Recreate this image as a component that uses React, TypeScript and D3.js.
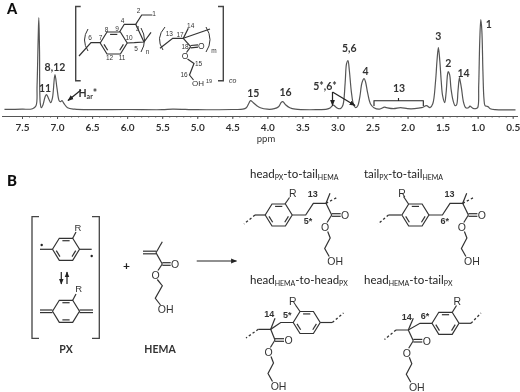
import React, { useEffect, useRef } from "react";
import * as d3 from "d3";

// 1H NMR spectrum: shift (ppm) and height above baseline
const shifts = [7.75, 7.5, 7.35, 7.3, 7.285, 7.27, 7.26, 7.25, 7.24, 7.225, 7.2, 7.17, 7.15, 7.12, 7.09, 7.065, 7.03, 7.0, 6.97, 6.95, 6.93, 6.9, 6.85, 6.75, 6.5, 6.0, 5.5, 5.35, 5.0, 4.5, 4.35, 4.3, 4.26, 4.24, 4.2, 4.15, 4.1, 4.0, 3.9, 3.84, 3.8, 3.78, 3.74, 3.68, 3.6, 3.3, 3.15, 3.1, 3.06, 3.02, 2.98, 2.95, 2.92, 2.89, 2.87, 2.85, 2.83, 2.8, 2.77, 2.74, 2.71, 2.68, 2.65, 2.62, 2.6, 2.57, 2.53, 2.48, 2.4, 2.33, 2.3, 2.2, 2.1, 2.0, 1.9, 1.8, 1.73, 1.68, 1.64, 1.6, 1.58, 1.56, 1.54, 1.52, 1.5, 1.47, 1.45, 1.43, 1.42, 1.4, 1.38, 1.35, 1.32, 1.3, 1.28, 1.26, 1.25, 1.23, 1.2, 1.17, 1.13, 1.11, 1.07, 1.03, 1.0, 0.985, 0.97, 0.955, 0.94, 0.925, 0.91, 0.895, 0.87, 0.85, 0.82, 0.75, 0.5, 0.46];
const heights = [1.3, 1.5, 2, 5, 25, 70, 93, 60, 8, 3, 6, 14, 16, 12, 8, 13, 36, 22, 10, 9, 10, 7, 3, 1.5, 1, 1.2, 1, 1.6, 1, 1.2, 1.5, 3, 8, 10, 8, 5, 3, 1.5, 2, 4, 8.5, 9, 6, 3, 1.5, 1, 1.5, 3, 5.5, 3.5, 2, 2.5, 6, 28, 47, 50, 40, 18, 6, 3, 5, 14, 28, 32, 29, 18, 7, 3, 1.5, 3.5, 3, 2, 3, 2, 2, 3, 5, 3, 7, 30, 50, 63, 50, 30, 15, 8, 18, 36, 39, 36, 22, 10, 5, 6, 20, 33, 30, 22, 8, 3, 3, 4.5, 2.5, 2, 3, 25, 70, 91, 80, 40, 12, 5, 4.5, 4, 2, 1, 0.8, 0.8];
const majorTicks = [7.5, 7.0, 6.5, 6.0, 5.5, 5.0, 4.5, 4.0, 3.5, 3.0, 2.5, 2.0, 1.5, 1.0, 0.5];
const minorTicks = d3.range(75, 4, -1).map((d) => d / 10);

// peak assignments: label, ppm, height of the label above baseline
const peakLabels: [string, number, number][] = [
  ["11", 7.17, 22.5], ["8,12", 7.03, 44], ["15", 4.2, 18], ["16", 3.74, 18.5],
  ["5,6", 2.83, 62.5], ["4", 2.6, 39.5], ["3", 1.56, 74.5], ["2", 1.42, 47.5],
  ["14", 1.2, 38], ["1", 0.84, 87],
];

const LABEL = "Lato, 'Open Sans', sans-serif";
const ARIAL = "'Liberation Sans', Arial, sans-serif";
const INK = "#333";

type Pt = [number, number];
const line = d3.line<Pt>();

// a benzene-like ring from its centre, flat top and bottom
const ring = (cx: number, cy: number): Pt[] => [
  [cx - 13.5, cy], [cx - 6.7, cy - 11], [cx + 6.7, cy - 11],
  [cx + 13.5, cy], [cx + 6.7, cy + 11], [cx - 6.7, cy + 11],
];

const Ring = ({ cx, cy, inner }: { cx: number; cy: number; inner: number[] }) => {
  const v = ring(cx, cy);
  return (
    <g>
      <path d={line([...v, v[0]])!} fill="none" stroke={INK} strokeWidth={1.2} />
      {inner.map((i) => {
        const a = v[i];
        const b = v[(i + 1) % 6];
        // inner bond: pulled towards the centre and shortened
        const p = (q: Pt, t: Pt): Pt => [q[0] + (cx - q[0]) * 0.22 + (t[0] - q[0]) * 0.12, q[1] + (cy - q[1]) * 0.22 + (t[1] - q[1]) * 0.12];
        return <path key={i} d={line([p(a, b), p(b, a)])!} fill="none" stroke={INK} strokeWidth={1.2} />;
      })}
    </g>
  );
};

const Bonds = ({ paths, dashed }: { paths: Pt[][]; dashed?: boolean }) => (
  <g fill="none" stroke={INK} strokeWidth={dashed ? 1.3 : 1.2} strokeDasharray={dashed ? "2.4 2.2" : undefined}>
    {paths.map((p, i) => <path key={i} d={line(p)!} />)}
  </g>
);

const Atom = ({ x, y, t, size = 10.5, bold = false }: { x: number; y: number; t: string; size?: number; bold?: boolean }) => (
  <text x={x} y={y} textAnchor="middle" dominantBaseline="central" fontFamily={ARIAL} fontSize={size} fontWeight={bold ? 700 : 400} fill={INK}>{t}</text>
);

// double bond as two parallel strokes
const dbl = (a: Pt, b: Pt, o: Pt): Pt[][] => [
  [[a[0] + o[0], a[1] + o[1]], [b[0] + o[0], b[1] + o[1]]],
  [[a[0] - o[0], a[1] - o[1]], [b[0] - o[0], b[1] - o[1]]],
];

// HEMA side: ester carbon, C=O, ester oxygen, ethylene chain and OH
const Ester = ({ x, y }: { x: number; y: number }) => (
  <g>
    <Bonds paths={[
      ...dbl([x, y], [x + 9, y], [0, 1.3]),
      [[x, y], [x - 4.6, y + 7.5]],
      [[x - 4, y + 16.5], [x - 1.5, y + 23], [x - 7, y + 33.5], [x - 2.5, y + 41.5]],
    ]} />
    <Atom x={x + 13.5} y={y} t="O" />
    <Atom x={x - 6.5} y={y + 12.3} t="O" />
    <Atom x={x + 3.5} y={y + 46} t="OH" />
  </g>
);

const Title = ({ x, y, parts }: { x: number; y: number; parts: string[] }) => (
  <text x={x} y={y} fontFamily={LABEL} fontSize={11.5} fill="#222">
    <tspan>{parts[0]}</tspan>
    <tspan fontSize={7} dy={2}>{parts[1]}</tspan>
    <tspan dy={-2}>{parts[2]}</tspan>
    <tspan fontSize={7} dy={2}>{parts[3]}</tspan>
  </text>
);

const Arrow = ({ from, to, id }: { from: Pt; to: Pt; id: string }) => (
  <path d={line([from, to])!} fill="none" stroke="#222" strokeWidth={1.2} markerEnd={`url(#${id})`} />
);

const PeakText = ({ x, y, t }: { x: number; y: number; t: string }) => (
  <text x={x} y={y} textAnchor="middle" dominantBaseline="central" fontFamily={LABEL} fontSize={10.5} fontWeight={700} fill="#333">{t}</text>
);

export default function App() {
  const axisRef = useRef<SVGGElement>(null);

  const x = d3.scaleLinear().domain([7.5, 0.5]).range([22, 512.7]);
  const y = d3.scaleLinear().domain([0, 93]).range([110.7, 17.7]);
  const spectrum = d3.line<number>().x((d) => x(d)).y((_, i) => y(heights[i])).curve(d3.curveCatmullRom.alpha(0.5));

  useEffect(() => {
    const g = d3.select(axisRef.current!);
    g.selectAll("*").remove();
    const minor = g.append("g").call(d3.axisBottom(x).tickValues(minorTicks).tickSize(1.5).tickFormat(() => ""));
    minor.select(".domain").remove();
    const major = g.append("g").call(d3.axisBottom(x).tickValues(majorTicks).tickSize(3).tickPadding(5).tickFormat(d3.format(".1f") as any));
    major.select(".domain").attr("stroke", "#555").attr("d", "M2,0.5H518");
    g.selectAll("line").attr("stroke", "#555");
    major.selectAll("text").attr("font-family", LABEL).attr("font-size", 10).attr("font-weight", 700).attr("fill", "#333");
  }, []);

  return (
    <svg width={520} height={392} style={{ position: "absolute", left: 0, top: 0, background: "#fff" }}>
      <defs>
        <filter id="soft" x="0" y="0" width="1" height="1"><feGaussianBlur stdDeviation="0.35" /></filter>
        <marker id="tip" viewBox="0 0 10 10" refX="9" refY="5" markerWidth="6" markerHeight="6" orient="auto-start-reverse" markerUnits="userSpaceOnUse">
          <path d="M0,1L10,5L0,9Z" fill="#222" />
        </marker>
      </defs>
      <g filter="url(#soft)">
        <text x={7} y={14} fontFamily={LABEL} fontSize={14.5} fontWeight={900} fill="#111">A</text>
        <text x={7} y={186} fontFamily={LABEL} fontSize={15} fontWeight={900} fill="#111">B</text>

        {/* spectrum */}
        <path d={spectrum(shifts)!} fill="none" stroke="#555" strokeWidth={1.2} />
        <g ref={axisRef} transform="translate(0,116)" />
        <text x={266} y={142} textAnchor="middle" fontFamily={LABEL} fontSize={9.5} fill="#333">ppm</text>

        {peakLabels.map(([t, p, h]) => (
          <PeakText key={t} x={x(p)} y={y(h)} t={t} />
        ))}
        <PeakText x={325} y={86} t="5*,6*" />
        <PeakText x={399} y={87.5} t="13" />
        <text x={78.5} y={97} fontFamily={LABEL} fontSize={10.5} fontWeight={700} fill="#333">H<tspan fontSize={7} dy={2}>ar</tspan><tspan dy={-2}>*</tspan></text>
        <Arrow from={[81, 90]} to={[68, 100.5]} id="tip" />
        <Arrow from={[332.5, 92]} to={[332.5, 105.5]} id="tip" />
        <Arrow from={[332.5, 92]} to={[355, 105.5]} id="tip" />
        <path d="M374,106V100.7H423.3V106M398.5,100.7V98" fill="none" stroke="#222" strokeWidth={1.1} />

        {/* repeat unit inset */}
        <path d="M80.7,6.5H75.7V80.7H80.7M218,6.5H223.3V80.7H218" fill="none" stroke="#444" strokeWidth={1.4} />
        <Ring cx={113.7} cy={43} inner={[1, 3, 5]} />
        <Bonds paths={[
          [[79, 56], [91, 42.7], [100.2, 42.7]],
          [[119.5, 32], [124.3, 24.3], [135.7, 24.3], [141.7, 15], [152.3, 15]],
          [[127.2, 43], [134.3, 42.7], [144, 42], [151, 32.3]],
          [[135.7, 24.3], [144, 42]],
        ]} />
        <path d="M88,29Q81,40 88,51M141,28Q148,40 141,52" fill="none" stroke={INK} strokeWidth={1} />
        <Atom x={90} y={37} t="6" size={6.5} /><Atom x={100.5} y={37} t="7" size={6.5} />
        <Atom x={106.5} y={29.5} t="8" size={6.5} /><Atom x={117} y={28.5} t="9" size={6.5} />
        <Atom x={129} y={37} t="10" size={6.5} /><Atom x={122} y={57} t="11" size={6.5} />
        <Atom x={109.5} y={57} t="12" size={6.5} /><Atom x={122.5} y={20.5} t="4" size={6.5} />
        <Atom x={137.5} y={28.5} t="3" size={6.5} /><Atom x={138.5} y={10} t="2" size={6.5} />
        <Atom x={154} y={13.5} t="1" size={6.5} /><Atom x={136} y={48} t="5" size={6.5} />
        <Atom x={147.5} y={51} t="n" size={6.5} />

        <Bonds paths={[
          [[160, 48.3], [172.7, 38.3], [183.3, 38.3], [188.3, 28.3]],
          [[183.3, 38.3], [210, 29]],
          [[183.3, 38.3], [190.7, 46.7]],
          ...dbl([190.7, 46.7], [198, 46], [0, 1.2]),
          [[190.7, 46.7], [186.5, 52.5]],
          [[187.5, 59], [194, 63.5], [189.5, 75], [193.5, 80]],
        ]} />
        <path d="M165,27Q155,38 163,50M206,27Q214,40 206,52" fill="none" stroke={INK} strokeWidth={1} />
        <Atom x={201.3} y={46} t="O" size={8.5} /><Atom x={185} y={55.7} t="O" size={8.5} />
        <Atom x={198} y={83} t="OH" size={8} /><Atom x={209} y={81} t="19" size={5.5} />
        <Atom x={169.3} y={33.3} t="13" size={6.5} /><Atom x={180} y={34.3} t="17" size={6.5} />
        <Atom x={190.7} y={25.7} t="14" size={6.5} /><Atom x={185} y={46} t="18" size={6.5} />
        <Atom x={198.5} y={63.5} t="15" size={6.5} /><Atom x={184} y={74.3} t="16" size={6.5} />
        <Atom x={214} y={50} t="m" size={6.5} />
        <text x={229} y={82.5} fontFamily={ARIAL} fontSize={7} fontStyle="italic" fill={INK}>co</text>

        {/* PX monomer */}
        <path d="M39,216.7H32V338.3H39M92,216.7H99.3V338.3H92" fill="none" stroke="#444" strokeWidth={1.3} />
        <Ring cx={66} cy={249.3} inner={[1, 3, 5]} />
        <Bonds paths={[[[40, 249.3], [52.5, 249.3]], [[79.5, 249.3], [91.7, 249.3]], [[72.7, 238.3], [76, 232]]]} />
        <circle cx={41.7} cy={245} r={1.2} fill="#222" /><circle cx={91.7} cy={256} r={1.2} fill="#222" />
        <Atom x={78} y={227} t="R" size={9.5} />
        <Arrow from={[61.3, 272]} to={[61.3, 284]} id="tip" />
        <Arrow from={[67, 284]} to={[67, 272]} id="tip" />
        <Ring cx={66} cy={311.3} inner={[1, 4]} />
        <Bonds paths={[
          ...dbl([40, 311.3], [52.5, 311.3], [0, 1.3]),
          ...dbl([79.5, 311.3], [93, 311.3], [0, 1.3]),
          [[72.7, 300.3], [76, 294]],
        ]} />
        <Atom x={78.7} y={288.7} t="R" size={9.5} />
        <text x={66} y={349} textAnchor="middle" dominantBaseline="central" fontFamily={LABEL} fontSize={10.5} fontWeight={700} fill="#333">PX</text>

        <text x={126.5} y={265} textAnchor="middle" dominantBaseline="central" fontFamily={LABEL} fontSize={12} fontWeight={700} fill="#222">+</text>

        {/* HEMA monomer */}
        <Bonds paths={[
          ...dbl([143, 252.5], [156, 252.5], [0, 1.3]),
          [[156, 252.7], [162.3, 241.7]],
          [[156, 252.7], [162.3, 264]],
          ...dbl([162.3, 264], [170.7, 264], [0, 1.3]),
          [[162.3, 264], [158, 270.5]],
          [[157.3, 279.5], [162.3, 285.7], [155.3, 298.3], [160.5, 305]],
        ]} />
        <Atom x={175} y={264.3} t="O" /><Atom x={155.5} y={275} t="O" />
        <Atom x={165.7} y={309.3} t="OH" />
        <text x={160} y={349} textAnchor="middle" dominantBaseline="central" fontFamily={LABEL} fontSize={10.5} fontWeight={700} fill="#333">HEMA</text>
        <Arrow from={[196.7, 261]} to={[236.5, 261]} id="tip" />

        {/* head PX to tail HEMA */}
        <Title x={250} y={178} parts={["head", "PX", "-to-tail", "HEMA"]} />
        <Ring cx={278.7} cy={215} inner={[1, 3, 5]} />
        <Bonds paths={[
          [[265, 215], [255, 215]],
          [[285, 204], [289.5, 197.5]],
          [[292.3, 215], [305.7, 215], [313.3, 203.3], [326, 203.3], [330, 193.3]],
          [[326, 203.3], [331.7, 215]],
        ]} />
        <Bonds dashed paths={[[[255, 215], [244, 224]], [[326, 203.3], [338, 197]]]} />
        <Ester x={331.7} y={215} />
        <Atom x={292.7} y={192.7} t="R" />
        <Atom x={312.7} y={194.3} t="13" size={9} bold /><Atom x={308} y={221} t="5*" size={9} bold />

        {/* tail PX to tail HEMA */}
        <Title x={364} y={178} parts={["tail", "PX", "-to-tail", "HEMA"]} />
        <Ring cx={415.4} cy={215} inner={[1, 3, 5]} />
        <Bonds paths={[
          [[401.7, 215], [388.5, 215]],
          [[408.5, 204], [403.5, 196.5]],
          [[429, 215], [442.4, 215], [450, 203.3], [462.7, 203.3], [466.7, 193.3]],
          [[462.7, 203.3], [468.4, 215]],
        ]} />
        <Bonds dashed paths={[[[388.5, 215], [378, 224]], [[462.7, 203.3], [474.7, 197]]]} />
        <Ester x={468.4} y={215} />
        <Atom x={402} y={192.7} t="R" />
        <Atom x={449.4} y={194.3} t="13" size={9} bold /><Atom x={444.7} y={221} t="6*" size={9} bold />

        {/* head HEMA to head PX */}
        <Title x={250} y={284} parts={["head", "HEMA", "-to-head", "PX"]} />
        <Ring cx={306.7} cy={322.5} inner={[1, 3, 5]} />
        <Bonds paths={[
          [[320.2, 322.5], [332.3, 322.5]],
          [[300, 311.5], [295.5, 305]],
          [[293.2, 322.5], [280.7, 322.5], [270.7, 329.3], [258.3, 329.3]],
          [[270.7, 329.3], [275, 318.3]],
          [[270.7, 329.3], [275, 340]],
        ]} />
        <Bonds dashed paths={[[[332.3, 322.5], [343.5, 313]], [[258.3, 329.3], [246, 338]]]} />
        <Ester x={275} y={340} />
        <Atom x={292.7} y={300.7} t="R" />
        <Atom x={269.3} y={314} t="14" size={9} bold /><Atom x={287.3} y={315} t="5*" size={9} bold />

        {/* head HEMA to tail PX */}
        <Title x={364} y={284} parts={["head", "HEMA", "-to-tail", "PX"]} />
        <Ring cx={445.5} cy={323.3} inner={[1, 3, 5]} />
        <Bonds paths={[
          [[459.2, 323.3], [471, 323.3]],
          [[452.3, 312.3], [456.5, 305.5]],
          [[432, 323.3], [420, 323.3], [408.3, 330], [396, 330]],
          [[408.3, 330], [413.3, 318.3]],
          [[408.3, 330], [413.3, 340.7]],
        ]} />
        <Bonds dashed paths={[[[471, 323.3], [481, 313]], [[396, 330], [384.5, 339.5]]]} />
        <Ester x={413.3} y={340.7} />
        <Atom x={457.3} y={300.7} t="R" />
        <Atom x={406.7} y={316.7} t="14" size={9} bold /><Atom x={425} y={316} t="6*" size={9} bold />
      </g>
    </svg>
  );
}
